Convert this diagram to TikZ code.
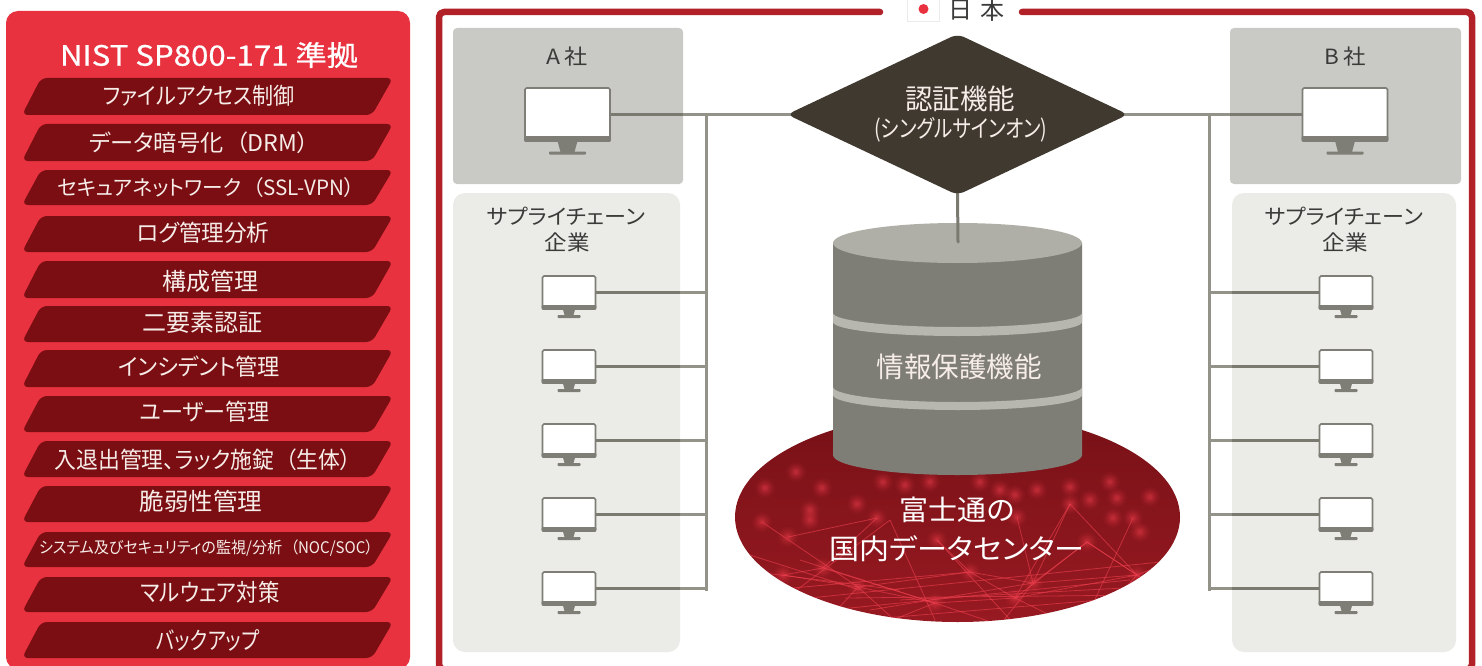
\documentclass[tikz,border=0pt]{standalone}
\usepackage{fontspec}
\setmainfont[RawFeature={+palt}]{Noto Sans CJK JP}
\newfontfamily\medfont[RawFeature={+palt},FakeBold=0.6]{Noto Sans CJK JP}
\usetikzlibrary{shapes.geometric}
\definecolor{panelred}{HTML}{E8323F}
\definecolor{banddark}{HTML}{7A0E12}
\definecolor{framered}{HTML}{B22028}
\definecolor{wire}{HTML}{93938A}
\definecolor{wirein}{HTML}{7A7A71}
\definecolor{monitor}{HTML}{7F7E76}
\definecolor{boxA}{HTML}{C9C9C6}
\definecolor{boxS}{HTML}{EBEBE8}
\definecolor{diam}{HTML}{3F3930}
\definecolor{cyltop}{HTML}{B0AFA7}
\definecolor{cylband}{HTML}{B8B7AF}
\definecolor{floorred}{HTML}{8C141B}
\definecolor{glow}{HTML}{F0404F}
\definecolor{txtdark}{HTML}{3A3A38}
\definecolor{txtlight}{HTML}{F6ECE8}
\pgfdeclarelayer{back}
\pgfsetlayers{back,main}
\tikzset{
  lab/.style={inner sep=0pt,outer sep=0pt,text=txtlight,align=center},
  darklab/.style={inner sep=0pt,outer sep=0pt,text=txtdark,align=center},
  wireline/.style={draw=wire,line width=3pt},
  wiredark/.style={draw=wirein,line width=3pt},
  scr/.style={draw=monitor,fill=white,line width=1.6pt,rounded corners=1.5pt,inner sep=0pt,outer sep=0pt},
  bandshape/.style={fill=banddark,rounded corners=6pt},
  net/.style={draw=glow,line width=0.8pt,opacity=.6}
}
% text at font size #2, condensed to exact width #1
\newcommand\fs[3]{{\fontsize{#2}{#2}\selectfont\resizebox{#1pt}{\height}{#3}}}
\newcommand\op{\hspace{.55em}（}
% band: top, bottom, cx, cy, width, size, text, name
\newcommand\bandrow[8]{%
  \fill[bandshape] (41,#1) -- (393,#1) -- (372,#2) -- (22,#2) -- cycle;
  \node[lab] (#8) at (#3,#4) {\fs{#5}{#6}{#7}};
}
% monitor: name, cx, top, width, height(incl bar), barh, neck h, base w
\newcommand\pcmon[8]{%
  \node[scr,minimum width=#4pt,minimum height=#5pt] (#1) at (#2,{#3+#5/2}) {};
  \fill[monitor,rounded corners=1pt] ({#2-#4/2-.8},{#3+#5-#6}) rectangle ({#2+#4/2+.8},{#3+#5+.8});
  \fill[monitor] ({#2-#8*.27},{#3+#5}) -- ({#2+#8*.27},{#3+#5}) -- ({#2+#8*.19},{#3+#5+#7}) -- ({#2-#8*.19},{#3+#5+#7}) -- cycle;
  \fill[monitor,rounded corners=.8pt] ({#2-#8/2},{#3+#5+#7-.5}) rectangle ({#2+#8/2},{#3+#5+#7+2.5});
}
% soft glowing point: x, y
\newcommand\glowdot[2]{%
  \foreach \r/\o in {10/.06,8/.08,6.5/.10,5/.12,3.5/.16,2/.18}
    {\fill[glow,opacity=\o] (#1,#2) circle (\r pt);}
}
\newcommand\lowarc[2]{(833,#1) .. controls (833,{#1+.5523*#2}) and (889,{#1+#2}) .. (957.5,{#1+#2}) .. controls (1026,{#1+#2}) and (1082,{#1+.5523*#2}) .. (1082,#1)}
\begin{document}
\begin{tikzpicture}[x=1pt,y=-1pt]
\clip (0,0) rectangle (1482,666);
\begin{pgfonlayer}{back}
\fill[white] (0,0) rectangle (1482,666);
\end{pgfonlayer}
% left panel
\fill[panelred,rounded corners=12pt] (6,11) rectangle (410,669);
\node[lab,text=white] (title) at (209,55) {{\medfont\fs{298}{28}{NIST SP800-171 準拠}}};
\bandrow{78}{115}{199}{96}{192}{23}{ファイルアクセス制御}{r1}
\bandrow{124}{161}{199}{143}{220}{23}{データ暗号化\op DRM）}{r2}
\bandrow{170}{205}{206}{188}{297}{21}{セキュアネットワーク\op SSL-VPN）}{r3}
\bandrow{216}{252}{203}{233}{133}{23}{ログ管理分析}{r4}
\bandrow{261}{298}{210}{281}{96}{24}{構成管理}{r5}
\bandrow{306}{342}{202}{322}{120}{24}{二要素認証}{r6}
\bandrow{350}{387}{199}{367}{162}{23}{インシデント管理}{r7}
\bandrow{396}{432}{205}{412}{130}{23}{ユーザー管理}{r8}
\bandrow{441}{477}{203}{460}{297}{23}{入退出管理、ラック施錠\op 生体）}{r9}
\bandrow{486}{522}{201}{501}{123}{24}{脆弱性管理}{r10}
\bandrow{532}{567}{206}{548}{334}{16}{システム及びセキュリティの監視/分析\op NOC/SOC）}{r11}
\bandrow{577}{612}{210}{592}{139}{24}{マルウェア対策}{r12}
\bandrow{622}{658}{208}{640}{103}{24}{バックアップ}{r13}
% frame
\draw[framered,line width=6.5pt,line cap=round,line join=round,rounded corners=5pt]
  (880,12) -- (439,12) -- (439,669.5) -- (1472,669.5) -- (1472,12) -- (1022,12);
\fill[white,draw=black!8,line width=.6pt] (907,-3) rectangle (939,21);
\fill[panelred] (923.5,9) circle (5pt);
\node[darklab] (jp1) at (960,10.5) {\fontsize{24}{24}\selectfont 日};
\node[darklab] (jp2) at (992,10.5) {\fontsize{24}{24}\selectfont 本};
\begin{pgfonlayer}{back}
  % company boxes
  \fill[boxA,rounded corners=4pt] (453,28) rectangle (683,184);
  \fill[boxA,rounded corners=4pt] (1230,28) rectangle (1461,184);
  \fill[boxS,rounded corners=12pt] (453,193) rectangle (680,652);
  \fill[boxS,rounded corners=12pt] (1232,193) rectangle (1456,652);
  % floor
  \begin{scope}
    \clip (957.5,517) ellipse [x radius=222.5pt,y radius=105pt];
    \shade[top color=floorred!85!black,bottom color=floorred!88!glow] (730,410) rectangle (1185,625);
    \foreach \a/\b/\c/\d in {
      783/575/858/587, 858/587/935/603, 935/603/1015/598, 1015/598/1137/575,
      762/522/858/587, 788/537/877/518, 877/518/823/568, 823/568/935/603,
      890/520/770/610, 890/520/935/620, 937/540/1015/625, 937/540/970/572,
      970/572/858/587, 970/572/1033/583, 1033/583/1137/575, 1033/583/1070/504,
      1070/504/1015/598, 1070/504/1137/575, 1087/542/1033/583, 1087/542/1160/590,
      740/570/900/590, 790/600/1180/560, 830/610/1130/580, 860/620/1100/600,
      1015/598/1087/542, 1133/518/1090/610, 1017/517/1033/583, 823/568/783/575,
      750/555/860/590, 770/590/970/572, 800/560/935/603, 858/587/900/625,
      858/587/823/625, 935/603/880/625, 935/603/1000/625, 1015/598/1070/625,
      1033/583/1000/625, 1137/575/1100/615, 1137/575/1175/560, 900/600/1180/585,
      845/598/1150/595, 870/610/1033/583, 970/572/1015/598, 1087/542/1137/575}
      {\draw[net] (\a,\b) -- (\c,\d);}
    \foreach \a/\b in {
      796/472, 765/488, 762/522, 788/537, 810/520, 810/510, 822/488, 857/504,
      877/518, 883/482, 930/482, 1070/487, 1070/504, 1037/490, 1090/500,
      1117/498, 1110/482, 1113/518, 1133/518, 1140/532, 1150/497, 1017/517,
      1087/542, 970/572, 1033/583, 1015/598, 935/603, 858/587, 823/568,
      783/575, 937/540, 1137/575, 905/485, 980/482, 1000/490, 1015/495}
      {\glowdot{\a}{\b}}
  \end{scope}
  % cylinder
  \fill[monitor] (833,243) -- (833,455) .. controls (833,466) and (889,475) .. (957.5,475) .. controls (1026,475) and (1082,466) .. (1082,455) -- (1082,243) -- cycle;
  \fill[cyltop] (957.5,243) ellipse [x radius=124.5pt,y radius=20pt];
  \fill[cylband] \lowarc{313}{14} -- (1082,322) .. controls (1082,{322+.5523*14}) and (1026,336) .. (957.5,336) .. controls (889,336) and (833,{322+.5523*14}) .. (833,322) -- cycle;
  \fill[cylband] \lowarc{387}{15} -- (1082,395) .. controls (1082,{395+.5523*15}) and (1026,410) .. (957.5,410) .. controls (889,410) and (833,{395+.5523*15}) .. (833,395) -- cycle;
\end{pgfonlayer}
% monitors
\pcmon{mA}{567.5}{88}{85}{53}{5}{11}{37}
\pcmon{mB}{1345}{88}{85}{53}{5}{11}{37}
\pcmon{a1}{569}{276}{53}{33}{4}{6.5}{23}
\pcmon{a2}{569}{350}{53}{33}{4}{6.5}{23}
\pcmon{a3}{569}{424}{53}{33}{4}{6.5}{23}
\pcmon{a4}{569}{498}{53}{33}{4}{6.5}{23}
\pcmon{a5}{569}{572}{53}{33}{4}{6.5}{23}
\pcmon{b1}{1346}{276}{53}{33}{4}{6.5}{23}
\pcmon{b2}{1346}{350}{53}{33}{4}{6.5}{23}
\pcmon{b3}{1346}{424}{53}{33}{4}{6.5}{23}
\pcmon{b4}{1346}{498}{53}{33}{4}{6.5}{23}
\pcmon{b5}{1346}{572}{53}{33}{4}{6.5}{23}
% authentication diamond
\node[diamond,aspect=2.13,fill=diam,rounded corners=7pt,inner sep=0pt,outer sep=0pt,minimum width=341pt,minimum height=161pt] (auth) at (957.5,114.5) {};
\node[lab] (auth1) at (960,99) {\fs{110}{28}{認証機能}};
\node[lab] (auth2) at (961,130) {\fs{173}{24}{(シングルサインオン)}};
% wires
\coordinate (dbTop) at (958,242);
\coordinate (busLt) at (706,114.5);
\coordinate (busLb) at (706,589);
\coordinate (busRt) at (1209,114.5);
\coordinate (busRb) at (1209,589);
\coordinate (edgeA) at (683,0);
\coordinate (edgeB) at (1230,0);
\coordinate (edgeSA) at (680,0);
\coordinate (edgeSB) at (1232,0);
\begin{pgfonlayer}{back}
  \draw[wireline,shorten >=-6pt] (mA.east) -- (auth.west);
  \draw[wireline,shorten <=-6pt] (auth.east) -- (mB.west);
  \draw[wiredark] (mA.east) -- (mA.east -| edgeA);
  \draw[wiredark] (mB.west) -- (mB.west -| edgeB);
  \draw[wireline,line cap=round,draw=wirein,shorten <=-6pt] (auth.south) -- (dbTop);
  \draw[wireline,line cap=rect] (busLt) -- (busLb);
  \draw[wireline,line cap=rect] (busRt) -- (busRb);
\end{pgfonlayer}
\foreach \n in {1,...,5}{
  \begin{pgfonlayer}{back}
    \draw[wireline] (a\n.east) -- (a\n.east -| busLt);
    \draw[wireline] (b\n.west) -- (b\n.west -| busRt);
    \draw[wiredark] (a\n.east) -- (a\n.east -| edgeSA);
    \draw[wiredark] (b\n.west) -- (b\n.west -| edgeSB);
  \end{pgfonlayer}
}
% labels
\node[darklab] (la) at (567,57) {\fs{41}{21}{A\,社}};
\node[darklab] (lb) at (1345,57) {\fs{41}{21}{B\,社}};
\node[darklab] (sa1) at (566,216) {\fs{158}{21}{サプライチェーン}};
\node[darklab] (sa2) at (567,242) {\fs{45}{21}{企業}};
\node[darklab] (sb1) at (1344,216) {\fs{158}{21}{サプライチェーン}};
\node[darklab] (sb2) at (1345,242) {\fs{45}{21}{企業}};
\node[lab] (prot) at (959,367) {\fs{165}{28}{情報保護機能}};
\node[lab,text=white] (dc1) at (957,510) {\fs{115}{28}{富士通の}};
\node[lab,text=white] (dc2) at (957,549) {\fs{255}{28}{国内データセンター}};
\end{tikzpicture}
\end{document}
